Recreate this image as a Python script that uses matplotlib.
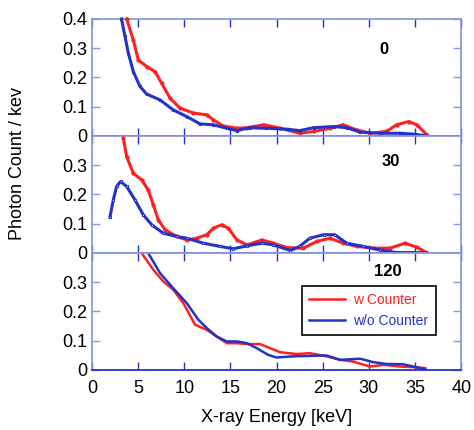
import matplotlib
matplotlib.use("Agg")
import matplotlib.pyplot as plt

plt.rcParams['font.family'] = ['Liberation Sans', 'DejaVu Sans']

# angle 0
e0_red = [3.76, 4.48, 5.02, 5.93, 6.83, 7.55, 8.46, 9.54, 10.98, 12.43, 13.15, 14.2, 15.7, 16.8,
          18.6, 20.4, 22.5, 24.0, 25.8, 27.2, 28.7, 30.1, 31.9, 33.0, 34.3, 35.2, 36.3]
v0_red = [0.40, 0.328, 0.26, 0.237, 0.22, 0.18, 0.129, 0.095, 0.078, 0.072, 0.055, 0.034, 0.026, 0.028,
          0.038, 0.026, 0.009, 0.015, 0.026, 0.038, 0.02, 0.009, 0.015, 0.038, 0.049, 0.038, 0.003]
e0_blue = [3.2, 3.58, 3.94, 4.48, 5.2, 5.93, 7.37, 8.8, 10.27, 11.7, 13.15, 14.6, 15.7, 17.1, 18.9,
           21.1, 22.5, 24.0, 26.2, 27.6, 29.05, 31.2, 33.4, 34.8, 36.3]
v0_blue = [0.40, 0.34, 0.283, 0.22, 0.169, 0.143, 0.123, 0.089, 0.066, 0.041, 0.038, 0.026, 0.018, 0.028, 0.026,
           0.023, 0.018, 0.028, 0.032, 0.028, 0.013, 0.009, 0.009, 0.006, 0.0]

# angle 30
e30_red = [3.4, 3.76, 4.48, 5.38, 6.1, 6.65, 7.19, 7.91, 9.18, 10.27, 11.35, 12.43, 13.15, 14.06, 14.78,
           15.7, 16.8, 18.4, 19.65, 21.1, 22.9, 24.35, 25.8, 27.2, 28.7, 30.5, 32.3, 33.9, 35.2, 36.3]
v30_red = [0.392, 0.329, 0.272, 0.25, 0.215, 0.164, 0.113, 0.079, 0.056, 0.044, 0.05, 0.062, 0.084, 0.096, 0.084,
           0.044, 0.027, 0.044, 0.033, 0.018, 0.016, 0.039, 0.05, 0.033, 0.022, 0.016, 0.016, 0.033, 0.019, 0.0]
e30_blue = [1.95, 2.31, 2.67, 3.1, 3.76, 4.66, 5.56, 6.47, 7.73, 9.18, 10.27, 12.07, 13.88, 15.3, 16.8,
            18.4, 19.65, 21.5, 22.5, 23.6, 25.1, 26.3, 27.6, 29.4, 31.2, 33.0, 34.8, 36.3]
v30_blue = [0.122, 0.181, 0.227, 0.244, 0.227, 0.181, 0.13, 0.096, 0.067, 0.056, 0.05, 0.033, 0.022, 0.014, 0.024,
            0.033, 0.027, 0.008, 0.022, 0.05, 0.062, 0.062, 0.033, 0.022, 0.01, 0.001, 0.001, 0.0]

# angle 120
e120_red = [5.38, 6.65, 7.73, 8.8, 9.9, 11.17, 12.43, 13.5, 14.6, 15.7, 16.8, 18.2, 19.3, 20.4, 22.2,
            23.6, 25.4, 26.9, 28.3, 30.1, 31.6, 33.4, 34.8, 36.1]
v120_red = [0.399, 0.342, 0.302, 0.274, 0.228, 0.154, 0.137, 0.114, 0.091, 0.091, 0.088, 0.088, 0.074, 0.06, 0.054,
            0.057, 0.046, 0.034, 0.028, 0.011, 0.017, 0.011, 0.009, 0.006]
e120_blue = [6.1, 7.37, 8.8, 10.27, 11.53, 12.43, 13.5, 14.6, 15.7, 16.8, 17.85, 19.1, 20.0, 21.8, 24.0,
             25.4, 26.9, 29.05, 30.5, 31.9, 33.7, 36.1]
v120_blue = [0.399, 0.331, 0.279, 0.228, 0.171, 0.143, 0.114, 0.097, 0.097, 0.091, 0.074, 0.051, 0.042, 0.046, 0.048,
             0.049, 0.034, 0.038, 0.026, 0.02, 0.019, 0.002]

labels = ["0", "30", "120"]
label_pos = [(0.79, 0.74), (0.81, 0.78), (0.80, 0.84)]

red = "#ff2020"
blue = "#2233cc"
light = "#8c96e6"

fig = plt.figure(figsize=(4.74, 4.30), dpi=100)
axes = fig.subplots(3, 1, sharex=True)
fig.subplots_adjust(left=0.194, right=0.973, top=0.956, bottom=0.14, hspace=0)

data = [(e0_red, v0_red, e0_blue, v0_blue),
        (e30_red, v30_red, e30_blue, v30_blue),
        (e120_red, v120_red, e120_blue, v120_blue)]

for i, ax in enumerate(axes):
    er, vr, eb, vb = data[i]
    if i < 2:
        # measured points: small markers on a thick line
        ax.plot(er, vr, color=red, lw=2.2, marker="o", ms=2, clip_on=False, zorder=3)
        ax.plot(eb, vb, color=blue, lw=2.2, marker="s", ms=2, clip_on=False,
                mfc="white" if i == 1 else blue, mew=0.8, zorder=4)
    else:
        ax.plot(er, vr, color=red, lw=1.8, label="w Counter")
        ax.plot(eb, vb, color=blue, lw=1.8, label="w/o Counter")
    ax.set_xlim(0, 40)
    ax.set_ylim(0, 0.4)
    ax.set_xticks(range(0, 45, 5))
    if i == 0:
        ax.set_yticks([0, 0.1, 0.2, 0.3, 0.4])
        ax.set_yticklabels(["0", "0.1", "0.2", "0.3", "0.4"])
    else:
        ax.set_yticks([0, 0.1, 0.2, 0.3])
        ax.set_yticklabels(["0", "0.1", "0.2", "0.3"])
    ax.tick_params(direction="in", top=True, right=True, length=6, width=1,
                   color=light, labelsize=13)
    ax.tick_params(axis="x", color=blue, pad=7)
    for s in ["left", "right", "top"]:
        ax.spines[s].set_color(light)
        ax.spines[s].set_linewidth(1.3)
    ax.spines["bottom"].set_color(blue)
    ax.spines["bottom"].set_linewidth(1.3)
    ax.text(label_pos[i][0], label_pos[i][1], labels[i], transform=ax.transAxes,
            fontsize=12, fontweight="bold", ha="center", va="center")

leg = axes[2].legend(loc="upper left", bbox_to_anchor=(0.569, 0.718), fontsize=10,
                     fancybox=False, framealpha=1, edgecolor="black", borderpad=0.5,
                     borderaxespad=0, handlelength=2.6, handletextpad=0.6)
leg.get_frame().set_linewidth(1.2)
leg.get_texts()[0].set_color(red)
leg.get_texts()[1].set_color(blue)

axes[2].set_xlabel("X-ray Energy [keV]", fontsize=13, labelpad=9)
fig.text(0.037, 0.62, "Photon Count / kev", rotation=90, fontsize=13, ha="center", va="center")

fig.savefig("out.png", dpi=100)
